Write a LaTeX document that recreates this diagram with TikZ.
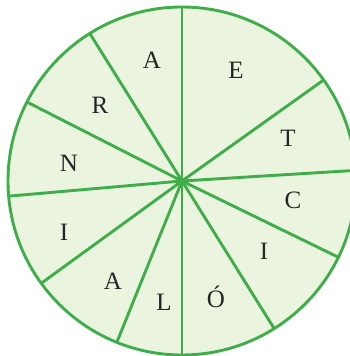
\documentclass[tikz,border=0pt]{standalone}
\usepackage{fontspec}
\setmainfont{Liberation Serif}
\usepackage{tikz}
\definecolor{wheelgreen}{HTML}{3FAE4A}
\definecolor{wheelfill}{HTML}{EBF4DF}
\begin{document}
\begin{tikzpicture}[x=1pt,y=1pt,line width=2.9pt,font=\fontsize{25}{28}\selectfont,
  letter/.style={inner sep=0pt,text=black!85}]
\useasboundingbox (0,0) rectangle (350,356);
\clip (0,0) rectangle (350,356);
\coordinate (O) at (182,175);
\draw[wheelgreen,fill=wheelfill] (O) circle (174);
\foreach \a in {90,122,153,185,216,248,270,302,334,3.5,35.5}
  \draw[wheelgreen] (O)--++(\a:174);
\node[letter] (a1) at (152,296) {A};
\node[letter] (e) at (236,286) {E};
\node[letter] (r) at (100,251) {R};
\node[letter] (t) at (288,218) {T};
\node[letter] (n) at (69,193) {N};
\node[letter] (c) at (293,156) {C};
\node[letter] (i1) at (64,124) {I};
\node[letter] (i2) at (264,105) {I};
\node[letter] (a2) at (113,75) {A};
\node[letter] (l) at (164,54) {L};
\node[letter] (o) at (216,59) {Ó};
\end{tikzpicture}
\end{document}
